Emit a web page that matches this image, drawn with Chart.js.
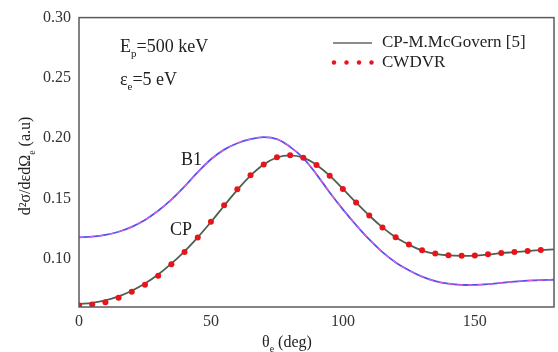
<!DOCTYPE html>
<html>
<head>
<meta charset="utf-8">
<script src="https://cdn.jsdelivr.net/npm/chart.js@4"></script>
<style>
html,body{margin:0;padding:0;background:#fff;}
#wrap{width:558px;height:352px;position:relative;}
</style>
</head>
<body>
<div id="wrap"><canvas id="c" width="558" height="352"></canvas></div>
<script>
const angles = [0,5,10,15,20,25,30,35,40,45,50,55,60,65,70,75,80,85,90,95,100,105,110,115,120,125,130,135,140,145,150,155,160,165,170,175,180];
const b1 = [0.1178,0.1184,0.1198,0.1224,0.1265,0.1322,0.1398,0.1490,0.1600,0.1718,0.1825,0.1905,0.1958,0.1992,0.2008,0.1992,0.1928,0.1835,0.1700,0.1550,0.1410,0.1280,0.1160,0.1055,0.0970,0.0905,0.0852,0.0815,0.0793,0.0783,0.0784,0.0790,0.0800,0.0810,0.0818,0.0823,0.0826];
const cpMcGovern = [0.0625,0.0635,0.0655,0.0688,0.0735,0.0795,0.0870,0.0960,0.1062,0.1178,0.1305,0.1440,0.1572,0.1690,0.1782,0.1840,0.1858,0.1838,0.1778,0.1690,0.1580,0.1466,0.1358,0.1260,0.1178,0.1117,0.1068,0.1040,0.1028,0.1024,0.1026,0.1035,0.1046,0.1055,0.1064,0.1072,0.1078];
const cwdvrAngles = [0,5,10,15,20,25,30,35,40,45,50,55,60,65,70,75,80,85,90,95,100,105,110,115,120,125,130,135,140,145,150,155,160,165,170,175];
const cwdvr = [0.0614,0.0620,0.0640,0.0677,0.0726,0.0785,0.0860,0.0954,0.1057,0.1176,0.1307,0.1443,0.1576,0.1692,0.1782,0.1842,0.1859,0.1837,0.1777,0.1688,0.1578,0.1466,0.1358,0.1260,0.1179,0.1119,0.1070,0.1043,0.1030,0.1024,0.1027,0.1038,0.1048,0.1057,0.1065,0.1073];
const xTicks = [0,50,100,150];
const yTicks = [0.10,0.15,0.20,0.25,0.30];

const pts = (xs, ys) => xs.map((x,i)=>({x:x,y:ys[i]}));
const SERIF = "'Liberation Serif','DejaVu Serif',serif";

const decor = {
  id:'decor',
  afterDraw(chart){
    const ctx = chart.ctx, a = chart.chartArea;
    ctx.save();
    ctx.strokeStyle = '#5a5a5a';
    ctx.lineWidth = 1.5;
    ctx.strokeRect(a.left, a.top, a.right-a.left, a.bottom-a.top);
    ctx.fillStyle = '#222';
    ctx.textBaseline = 'middle';
    ctx.textAlign = 'left';
    const sub = (main, subs, rest, x, y, size) => {
      ctx.font = size + 'px ' + SERIF;
      ctx.fillText(main, x, y);
      let w = ctx.measureText(main).width;
      ctx.font = Math.round(size*0.62) + 'px ' + SERIF;
      ctx.fillText(subs, x + w, y + size*0.38);
      let w2 = ctx.measureText(subs).width;
      ctx.font = size + 'px ' + SERIF;
      ctx.fillText(rest, x + w + w2, y);
    };
    sub('E', 'p', '=500 keV', 120, 47, 18);
    sub('ε', 'e', '=5 eV', 120, 80, 18);
    ctx.font = '18px ' + SERIF;
    ctx.fillText('B1', 181, 160);
    ctx.fillText('CP', 170, 230);
    ctx.strokeStyle = '#666';
    ctx.lineWidth = 1.3;
    ctx.beginPath(); ctx.moveTo(333, 43); ctx.lineTo(372, 43); ctx.stroke();
    ctx.fillStyle = '#e8141c';
    [334,346.5,359,371.5].forEach(x=>{ctx.beginPath(); ctx.arc(x, 62.5, 2.2, 0, Math.PI*2); ctx.fill();});
    ctx.fillStyle = '#222';
    ctx.font = '17px ' + SERIF;
    ctx.fillText('CP-M.McGovern [5]', 382, 43);
    ctx.fillText('CWDVR', 382, 63);
    sub('θ', 'e', ' (deg)', 262, 343, 16);
    ctx.save();
    ctx.translate(26, 166);
    ctx.rotate(-Math.PI/2);
    ctx.textAlign = 'left';
    const t1 = 'd²σ/dεdΩ', t3 = ' (a.u)';
    ctx.font = '16px ' + SERIF; const w1 = ctx.measureText(t1).width;
    ctx.font = '10px ' + SERIF; const w2 = ctx.measureText('e').width;
    ctx.font = '16px ' + SERIF; const w3 = ctx.measureText(t3).width;
    const total = w1 + w2 + w3;
    let x0 = -total/2;
    ctx.fillText(t1, x0, 0);
    ctx.font = '10px ' + SERIF; ctx.fillText('e', x0 + w1, 6);
    ctx.font = '16px ' + SERIF; ctx.fillText(t3, x0 + w1 + w2, 0);
    ctx.restore();
    ctx.restore();
  }
};

new Chart(document.getElementById('c'), {
  type: 'scatter',
  data: {
    datasets: [
      {label:'CP-M.McGovern [5]', data: pts(angles, cpMcGovern), showLine:true, borderColor:'#4d6150', borderWidth:1.8, pointRadius:0, tension:0.4, order:3},
      {label:'B1', data: pts(angles, b1), showLine:true, borderColor:'#5252f2', borderWidth:1.8, pointRadius:0, tension:0.4, order:2},
      {label:'B1 dashed', data: pts(angles, b1), showLine:true, borderColor:'#e45ad8', borderWidth:1.3, borderDash:[5,5], pointRadius:0, tension:0.4, order:1},
      {label:'CWDVR', data: pts(cwdvrAngles, cwdvr), showLine:false, pointRadius:3, pointBackgroundColor:'#e8141c', pointBorderColor:'#e8141c', pointBorderWidth:0, order:0}
    ]
  },
  options: {
    responsive:false,
    animation:false,
    layout:{padding:{left:0,right:2,top:14,bottom:0}},
    plugins:{legend:{display:false}, tooltip:{enabled:false}},
    scales:{
      x:{
        type:'linear', min:0, max:180,
        grid:{display:false, drawTicks:false},
        border:{display:false},
        afterBuildTicks(s){ s.ticks = xTicks.map(v=>({value:v})); },
        afterFit(s){ s.height = 45; },
        ticks:{padding:5, color:'#333', font:{family:SERIF, size:16}, maxRotation:0, callback:v=>String(v)}
      },
      y:{
        type:'linear', min:0.06, max:0.30,
        grid:{display:false, drawTicks:false},
        border:{display:false},
        afterBuildTicks(s){ s.ticks = yTicks.map(v=>({value:v})); },
        afterFit(s){ s.width = 79; },
        ticks:{padding:8, color:'#333', font:{family:SERIF, size:16}, callback:v=>v.toFixed(2)}
      }
    }
  },
  plugins:[decor]
});
</script>
</body>
</html>
